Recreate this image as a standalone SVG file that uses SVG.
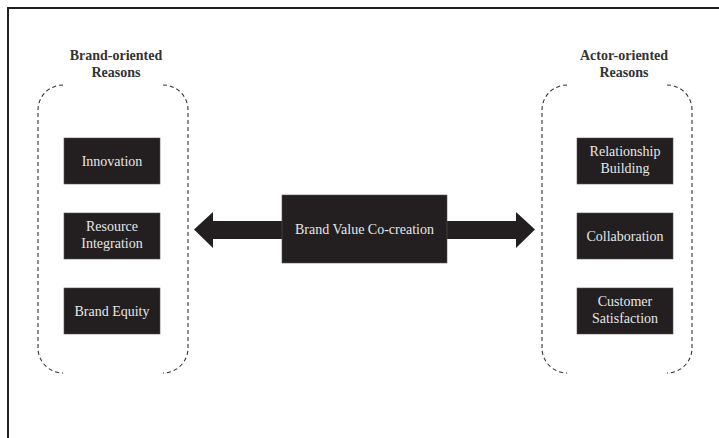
<svg xmlns="http://www.w3.org/2000/svg" width="719" height="438" viewBox="0 0 719 438">
  <style>
    .frame { fill: none; stroke: #231f20; stroke-width: 2; }
    .bracket { fill: none; stroke: #333; stroke-width: 1.1; stroke-dasharray: 4 3; }
    .title { font-family: "Liberation Serif", "Times New Roman", serif; font-size: 14px; font-weight: bold; fill: #333; text-anchor: middle; }
    .box { fill: #231f20; stroke: #555; stroke-width: 0.6; }
    .label { font-family: "Liberation Serif", "Times New Roman", serif; font-size: 14px; fill: #e6e6e6; text-anchor: middle; }
    .arrow { fill: #231f20; }
  </style>

  <rect width="719" height="438" fill="#ffffff"/>

  <!-- page frame: top and left rules only -->
  <path class="frame" d="M8 438 V8 H719"/>

  <!-- brand-oriented group -->
  <g id="brand-oriented">
    <text class="title" x="116" y="60">Brand-oriented</text>
    <text class="title" x="116" y="77">Reasons</text>
    <path class="bracket" d="M63 85 A25 25 0 0 0 38 110 V348 A25 25 0 0 0 63 373"/>
    <path class="bracket" d="M163 85 A25 25 0 0 1 188 110 V348 A25 25 0 0 1 163 373"/>
  </g>
  <g id="innovation">
    <rect class="box" x="64" y="138" width="96" height="46"/>
    <text class="label" x="112" y="166">Innovation</text>
  </g>
  <g id="resource-integration">
    <rect class="box" x="64" y="213" width="96" height="46"/>
    <text class="label" x="112" y="231">Resource</text>
    <text class="label" x="112" y="248">Integration</text>
  </g>
  <g id="brand-equity">
    <rect class="box" x="64" y="288" width="96" height="46"/>
    <text class="label" x="112" y="316">Brand Equity</text>
  </g>

  <!-- actor-oriented group -->
  <g id="actor-oriented">
    <text class="title" x="624" y="60">Actor-oriented</text>
    <text class="title" x="624" y="77">Reasons</text>
    <path class="bracket" d="M567 85 A25 25 0 0 0 542 110 V348 A25 25 0 0 0 567 373"/>
    <path class="bracket" d="M667 85 A25 25 0 0 1 692 110 V348 A25 25 0 0 1 667 373"/>
  </g>
  <g id="relationship-building">
    <rect class="box" x="577" y="138" width="96" height="46"/>
    <text class="label" x="625" y="156">Relationship</text>
    <text class="label" x="625" y="173">Building</text>
  </g>
  <g id="collaboration">
    <rect class="box" x="577" y="213" width="96" height="46"/>
    <text class="label" x="625" y="241">Collaboration</text>
  </g>
  <g id="customer-satisfaction">
    <rect class="box" x="577" y="288" width="96" height="46"/>
    <text class="label" x="625" y="306">Customer</text>
    <text class="label" x="625" y="323">Satisfaction</text>
  </g>

  <!-- double-headed connector through the centre -->
  <g id="connectors">
    <polygon class="arrow" points="194,229.5 213,212 213,221 283,221 283,239 213,239 213,248"/>
    <polygon class="arrow" points="535,229.5 516,212 516,221 446,221 446,239 516,239 516,248"/>
  </g>

  <g id="brand-value-co-creation">
    <rect class="box" x="282" y="195" width="165" height="68"/>
    <text class="label" x="364.5" y="234">Brand Value Co-creation</text>
  </g>
</svg>
